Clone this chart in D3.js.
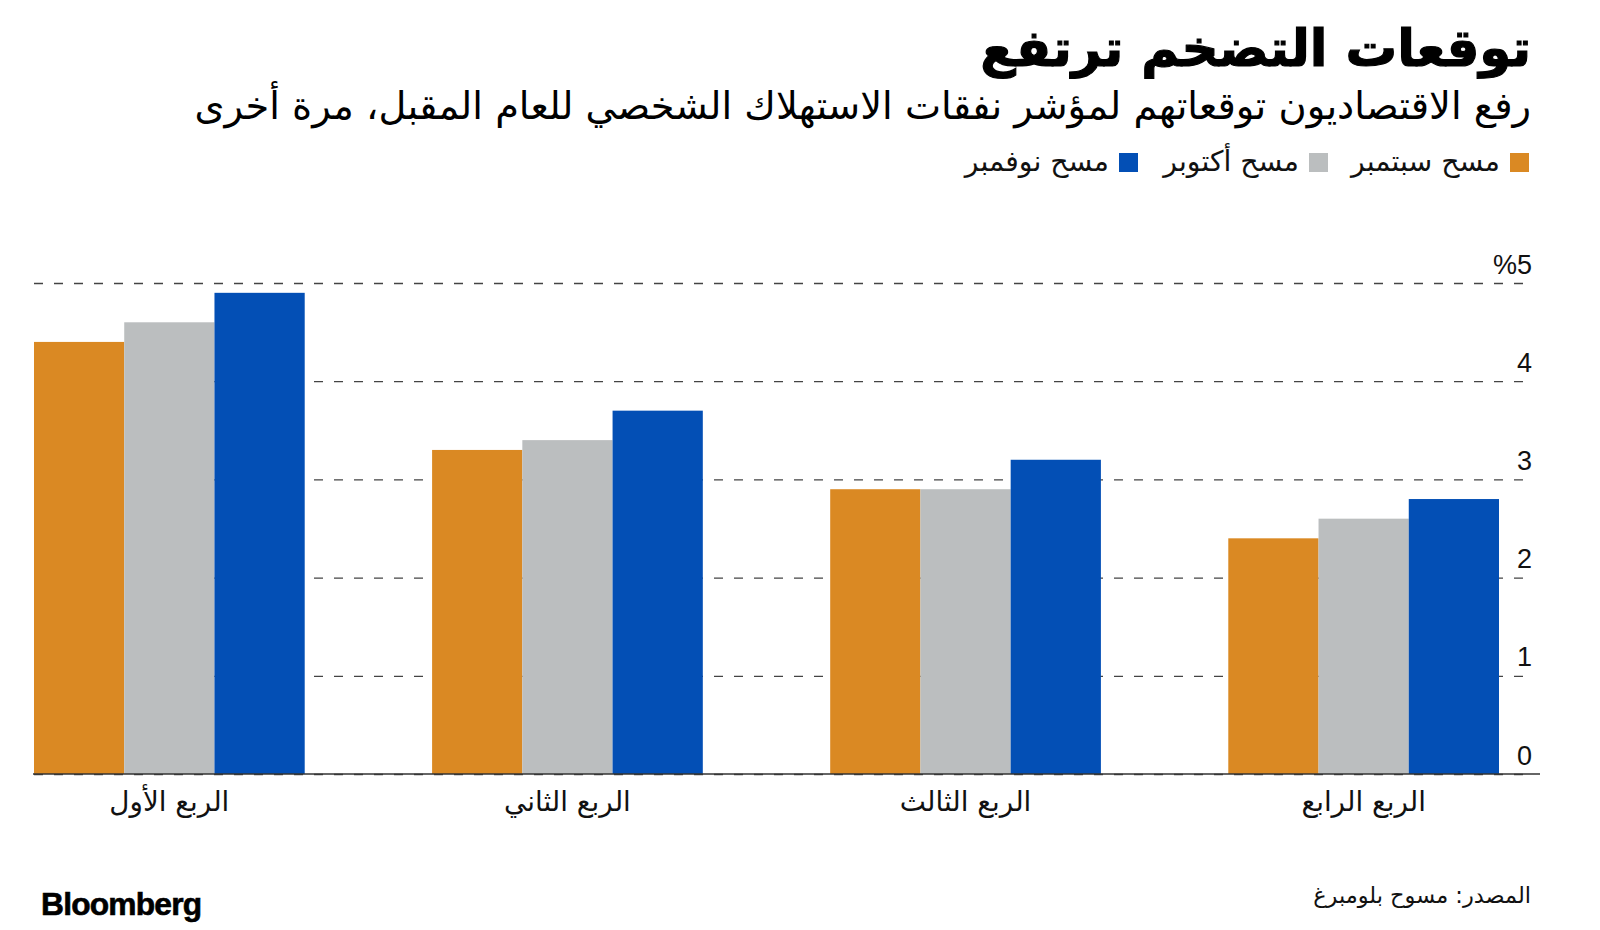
<!DOCTYPE html>
<html><head><meta charset="utf-8">
<script src="https://cdn.jsdelivr.net/npm/d3@7"></script>
<style>
html,body{margin:0;padding:0;background:#fff;}
svg{display:block;}
</style></head>
<body>
<svg id="chart" width="1600" height="930"></svg>
<script>
const categories = ["الربع الأول", "الربع الثاني", "الربع الثالث", "الربع الرابع"];
const seriesNames = ["مسح سبتمبر", "مسح أكتوبر", "مسح نوفمبر"];
const septValues = [4.4, 3.3, 2.9, 2.4];
const octValues  = [4.6, 3.4, 2.9, 2.6];
const novValues  = [4.9, 3.7, 3.2, 2.8];
const yTicks = [0, 1, 2, 3, 4, 5];
const yTickLabels = ["0", "1", "2", "3", "4", "%5"];
const titleText = "توقعات التضخم ترتفع";
const subtitleText = "رفع الاقتصاديون توقعاتهم لمؤشر نفقات الاستهلاك الشخصي للعام المقبل، مرة أخرى";
const sourceText = "المصدر: مسوح بلومبرغ";

const colors = ["#DA8923", "#BBBEBF", "#034FB5"];
const series = [septValues, octValues, novValues];

const svg = d3.select("#chart");
const arFont = "'DejaVu Sans', sans-serif";
const numFont = "'Liberation Sans', Arial, sans-serif";

function fitText(sel, target, base) {
  const w = sel.node().getComputedTextLength();
  sel.attr("font-size", base * target / w);
}

// Scales
const x0 = d3.scaleBand().domain(categories).range([34, 1499]).paddingInner(0.32).paddingOuter(0);
const x1 = d3.scaleBand().domain(d3.range(series.length)).range([0, x0.bandwidth()]).padding(0);
const y = d3.scaleLinear().domain([0, 5]).range([774, 283]);

// Grid / y axis
const gridRight = 1532;
const yAxis = d3.axisLeft(y).tickValues(yTicks).tickSize(gridRight - 34)
  .tickFormat((d, i) => yTickLabels[i]);
const gy = svg.append("g").attr("transform", `translate(${gridRight},0)`).call(yAxis);
gy.select(".domain").remove();
gy.selectAll(".tick line")
  .attr("stroke", "#444").attr("stroke-width", 1.3).attr("stroke-dasharray", "9,11")
  .attr("x1", -(gridRight - 34)).attr("x2", 0);
gy.selectAll(".tick text")
  .attr("x", 0).attr("dy", null).attr("y", -10)
  .attr("text-anchor", "end").attr("font-family", numFont).attr("font-size", 27)
  .attr("fill", "#111").attr("direction", "ltr");

// Bars
const groups = svg.append("g").selectAll("g").data(categories).join("g")
  .attr("transform", d => `translate(${x0(d)},0)`);
groups.selectAll("rect").data((d, i) => series.map((s, j) => ({j, v: s[i]}))).join("rect")
  .attr("x", d => x1(d.j)).attr("width", x1.bandwidth())
  .attr("y", d => y(d.v)).attr("height", d => y(0) - y(d.v))
  .attr("fill", d => colors[d.j]);

// Baseline
svg.append("line").attr("x1", 33).attr("x2", 1540).attr("y1", y(0)).attr("y2", y(0))
  .attr("stroke", "#333").attr("stroke-width", 1.5);

// X axis labels
const xAxis = d3.axisBottom(x0).tickSize(0);
const gx = svg.append("g").attr("transform", `translate(0,${y(0)})`).call(xAxis);
gx.select(".domain").remove();
gx.selectAll(".tick text").attr("y", 37).attr("dy", null)
  .attr("font-family", arFont).attr("font-size", 22).attr("fill", "#111");
{
  const t = gx.select(".tick text");
  const w = t.node().getComputedTextLength();
  const fs = 22 * 120 / w;
  gx.selectAll(".tick text").attr("font-size", fs);
}

// Title
const title = svg.append("text").text(titleText).attr("x", 1531).attr("y", 66)
  .attr("text-anchor", "end").attr("font-family", arFont).attr("font-weight", "bold")
  .attr("font-size", 50).attr("fill", "#000").attr("stroke", "#000").attr("stroke-width", 1.2);
fitText(title, 551, 50);

const sub = svg.append("text").text(subtitleText).attr("x", 1531).attr("y", 119)
  .attr("text-anchor", "end").attr("font-family", arFont)
  .attr("font-size", 30).attr("fill", "#000");
fitText(sub, 1337, 30);

// Legend
const legendSquares = [1510, 1309, 1119];
const legendTargets = [149, 138, 152];
const lg = svg.append("g");
let legFs = null;
seriesNames.forEach((name, i) => {
  lg.append("rect").attr("x", legendSquares[i]).attr("y", 153).attr("width", 19).attr("height", 19)
    .attr("fill", colors[i]);
  const t = lg.append("text").text(name).attr("x", legendSquares[i] - 10).attr("y", 171)
    .attr("text-anchor", "end").attr("font-family", arFont).attr("font-size", 22).attr("fill", "#111");
  if (legFs === null) {
    legFs = 22 * legendTargets[0] / t.node().getComputedTextLength();
  }
  t.attr("font-size", legFs);
});

// Source
const src = svg.append("text").text(sourceText).attr("x", 1531).attr("y", 903)
  .attr("text-anchor", "end").attr("font-family", arFont).attr("font-size", 20).attr("fill", "#111");
fitText(src, 218, 20);

// Bloomberg logo
const logo = svg.append("text").text("Bloomberg").attr("x", 41).attr("y", 915)
  .attr("font-family", numFont).attr("font-weight", "bold").attr("font-size", 30)
  .attr("letter-spacing", -0.8).attr("fill", "#000").attr("stroke", "#000").attr("stroke-width", 0.6);
fitText(logo, 160, 30);
</script>
</body></html>
